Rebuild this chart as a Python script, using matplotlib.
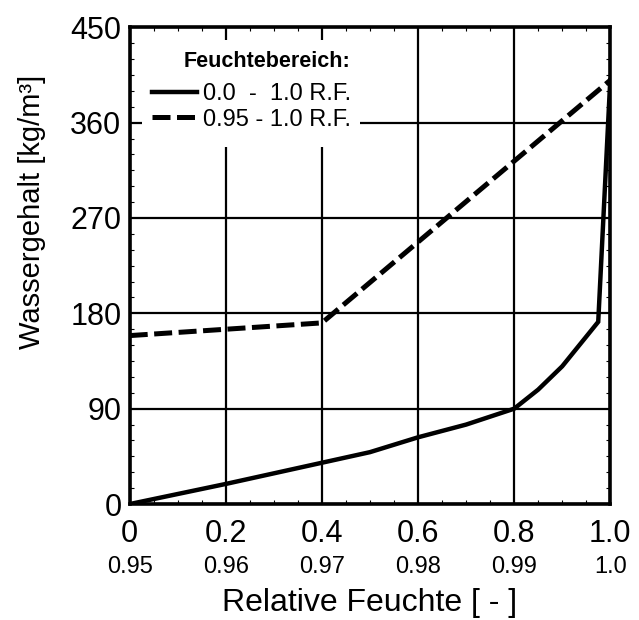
import matplotlib
matplotlib.use("Agg")
import matplotlib.pyplot as plt
from matplotlib.patches import Rectangle
from matplotlib.ticker import MultipleLocator

plt.rcParams['font.family'] = ['Liberation Sans', 'DejaVu Sans']

# Sorption curve over the full humidity range (bottom axis)
rh_full = [0.0, 0.2, 0.4, 0.5, 0.6, 0.7, 0.8, 0.85, 0.9, 0.95, 0.975, 1.0]
w_full = [0, 19, 39, 49, 63, 75, 90, 108, 130, 158, 172, 400]

# Sorption curve over the high humidity range 0.95 - 1.0 (second axis row)
rh_high = [0.95, 0.96, 0.97, 1.0]
w_high = [159, 165, 171, 400]

x_ticks = [0, 0.2, 0.4, 0.6, 0.8, 1.0]
x_labels = ['0', '0.2', '0.4', '0.6', '0.8', '1.0']
x2_ticks = [0.95, 0.96, 0.97, 0.98, 0.99, 1.0]
x2_labels = ['0.95', '0.96', '0.97', '0.98', '0.99', '1.0']
y_ticks = [0, 90, 180, 270, 360, 450]


def high_to_main(v):
    return (v - 0.95) / 0.05


def main_to_high(v):
    return 0.95 + 0.05 * v


fig = plt.figure(figsize=(6.39, 6.2), dpi=100)
ax = fig.add_axes([0.203, 0.187, 0.752, 0.769])

ax.plot(rh_full, w_full, color='black', lw=3.2, solid_joinstyle='miter',
        label='0.0  -  1.0 R.F.', zorder=3)
ax.plot([high_to_main(v) for v in rh_high], w_high, color='black', lw=3.6,
        ls=(0, (3.6, 1.3)), label='0.95 - 1.0 R.F.', zorder=3)

ax.set_xlim(0, 1.0)
ax.set_ylim(0, 450)
ax.set_xticks(x_ticks)
ax.set_xticklabels(x_labels)
ax.set_yticks(y_ticks)
ax.xaxis.set_minor_locator(MultipleLocator(0.05))
ax.yaxis.set_minor_locator(MultipleLocator(15))
ax.tick_params(axis='both', which='major', labelsize=22, length=0)
ax.tick_params(axis='x', which='major', pad=11)
ax.tick_params(axis='y', which='major', pad=6)
ax.tick_params(axis='both', which='minor', direction='in', length=3,
               width=0.8, top=True, right=True)
ax.grid(True, which='major', color='black', lw=1.6)

for sp in ax.spines.values():
    sp.set_linewidth(2.6)

# Second row of humidity labels for the 0.95 - 1.0 range
sec = ax.secondary_xaxis('bottom', functions=(main_to_high, high_to_main))
sec.set_xticks(x2_ticks)
sec.set_xticklabels(x2_labels)
sec.tick_params(length=0, pad=37.5, labelsize=17)
sec.spines['bottom'].set_visible(False)

ax.set_xlabel('Relative Feuchte [ - ]', fontsize=23, labelpad=28)
ax.set_ylabel('Wassergehalt [kg/m³]', fontsize=21)
ax.yaxis.set_label_coords(-0.175, 0.613)

# White panel behind the legend block, hiding the grid there
ax.add_patch(Rectangle((0.025, 0.748), 0.454, 0.225, transform=ax.transAxes,
                       facecolor='white', edgecolor='none', zorder=1.8))
ax.text(0.285, 0.929, 'Feuchtebereich:', transform=ax.transAxes,
        ha='center', va='center', fontsize=15.5, fontweight='bold', zorder=6)
leg = ax.legend(loc='upper left', bbox_to_anchor=(0.046, 0.883),
                fontsize=17, frameon=False, handlelength=1.9,
                handletextpad=0.25, borderpad=0.0, labelspacing=0.15,
                borderaxespad=0.0)
leg.set_zorder(5)

fig.savefig('out.png', dpi=100)
